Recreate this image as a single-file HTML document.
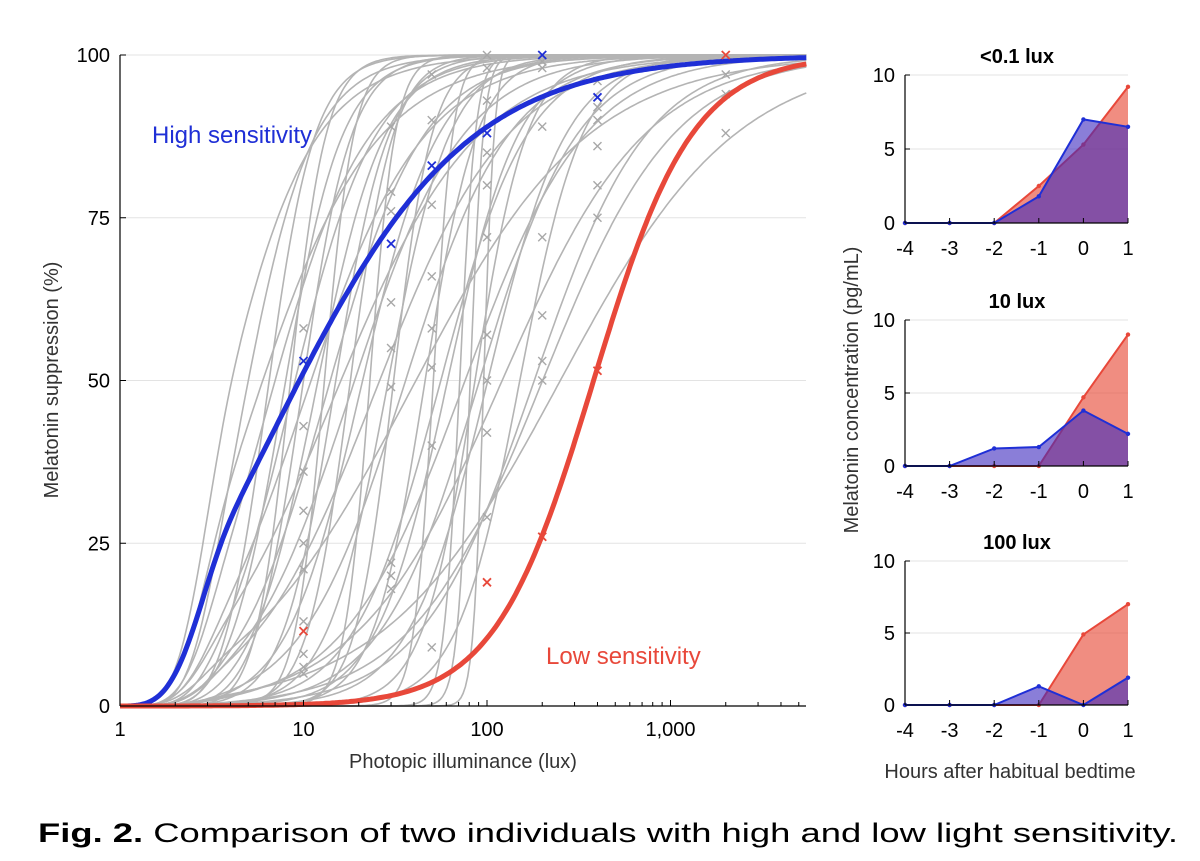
<!DOCTYPE html>
<html><head><meta charset="utf-8"><style>
body{margin:0;background:#fff;width:1200px;height:856px;overflow:hidden;font-family:"Liberation Sans",sans-serif}
svg text{font-family:"Liberation Sans",sans-serif}
</style></head><body>
<svg id="s" width="1200" height="856"></svg>
<script>
// ---- main chart data ----
const grayEc50 = [3,4,5,5.5,6,7,7.5,8,9,10,11,12,13,14,15,17,18,20,22,25,28,30,35,40,45,50,55,60,70,75,80,85,90,95,100,120,150,180,200,250];
const grayN    = [1.5,2,1.2,3,1.5,2.5,4,1.8,3,1.3,2.2,5,1.6,2.8,1.1,3.5,1.4,2,6,1.2,2.5,4,1.5,0.9,3,8,1.8,2.2,10,1.3,12,3,1.6,15,2,1.1,2.5,1.4,1.2,0.9];
const markLux = [10,10,10,10,10,10,10,10,10,10,30,30,30,30,30,30,30,30,30,50,50,50,50,50,50,50,50,100,100,100,100,100,100,100,100,100,100,200,200,200,200,200,200,200,400,400,400,400,400,400,2000,2000,2000];
const markVal = [58,43,36,30,25,21,13,8,6,5,89,79,76,62,55,49,22,20,18,97,90,77,66,58,52,40,9,100,98,93,85,80,72,57,50,42,29,99,89,72,60,53,50,98,96,92,86,80,75,90,94,88,97];
const blueLux=[10,30,50,100,200,400], blueVal=[53,71,83,88,100,93.5];
const redLux=[10,100,200,400,2000], redVal=[11.5,19,26,51.5,100];
const yTicks=[0,25,50,75,100], xTicks=[1,10,100,1000], xTickLabels=["1","10","100","1,000"];
// ---- small panels ----
const hours=[-4,-3,-2,-1,0,1];
const p1Red=[0,0,0,2.5,5.3,9.2], p1Blue=[0,0,0,1.8,7,6.5];
const p2Red=[0,0,0,0,4.7,9], p2Blue=[0,0,1.2,1.3,3.8,2.2];
const p3Red=[0,0,0,0,4.9,7], p3Blue=[0,0,0,1.3,0,1.9];
const panelTitles=["<0.1 lux","10 lux","100 lux"];

const NS="http://www.w3.org/2000/svg", S=document.getElementById('s');
function mk(tag,at,parent){const e=document.createElementNS(NS,tag);for(const k in at)e.setAttribute(k,at[k]);(parent||S).appendChild(e);return e;}
const X=v=>120+Math.log10(v)*183.5, Y=v=>706-v*6.51;
const hill=(x,ec,n)=>x<=1?0:(100/(1+Math.pow(ec/(x-1),n)))*(1-Math.exp(-Math.pow((x-1)/1.5,2)));
function curvePath(ec,n){let d="";for(let i=0;i<=300;i++){const lx=i/300*3.74;const x=Math.pow(10,lx);d+=(i?"L":"M")+X(x).toFixed(1)+","+Y(hill(x,ec,n)).toFixed(1);}return d;}

yTicks.forEach(t=>{if(t>0){const g=mk('line',{x1:120,x2:806,y1:Y(t),y2:Y(t),stroke:'#e3e3e3','stroke-width':1});}});
grayEc50.forEach((ec,i)=>{const p=mk('path',{d:curvePath(ec,grayN[i]),fill:'none',stroke:'#b4b4b4','stroke-width':1.6});

});
function xm(x,y,c,w){const g=mk('g',{stroke:c,'stroke-width':w});mk('line',{x1:x-4,y1:y-4,x2:x+4,y2:y+4},g);mk('line',{x1:x-4,y1:y+4,x2:x+4,y2:y-4},g);}
markLux.forEach((l,i)=>{if(markVal[i]!==undefined)xm(X(l),Y(markVal[i]),'#a8a8a8',1.4);});
const bp=mk('path',{d:curvePath(8.5,0.85),fill:'none',stroke:'#1f2fd6','stroke-width':5});

const rp=mk('path',{d:curvePath(380,1.6),fill:'none',stroke:'#e8483a','stroke-width':5});

blueLux.forEach((l,i)=>xm(X(l),Y(blueVal[i]),'#1f2fd6',1.8));
redLux.forEach((l,i)=>xm(X(l),Y(redVal[i]),'#e8483a',1.8));
mk('line',{x1:120,x2:120,y1:55,y2:706,stroke:'#000','stroke-width':1.2});
mk('line',{x1:120,x2:806,y1:706,y2:706,stroke:'#000','stroke-width':1.2});
yTicks.forEach(t=>{mk('line',{x1:120,x2:126,y1:Y(t),y2:Y(t),stroke:'#000'});const tx=mk('text',{x:110,y:Y(t)+7,'text-anchor':'end','font-size':20});tx.textContent=t;});
xTicks.forEach((t,i)=>{mk('line',{x1:X(t),x2:X(t),y1:706,y2:700,stroke:'#000'});const tx=mk('text',{x:X(t),y:736,'text-anchor':'middle','font-size':20});tx.textContent=xTickLabels[i];});
for(let d=0;d<4;d++)for(let k=2;k<10;k++){const v=k*Math.pow(10,d);if(v<5500)mk('line',{x1:X(v),x2:X(v),y1:706,y2:702,stroke:'#000'});}
let t=mk('text',{x:463,y:768,'text-anchor':'middle','font-size':20,fill:'#333'});t.textContent="Photopic illuminance (lux)";
t=mk('text',{x:58,y:380,'text-anchor':'middle','font-size':20,fill:'#333',transform:'rotate(-90 58 380)'});t.textContent="Melatonin suppression (%)";
t=mk('text',{x:152,y:143,'font-size':24,fill:'#1f2fd6'});t.textContent="High sensitivity";
t=mk('text',{x:546,y:664,'font-size':24,fill:'#e8483a'});t.textContent="Low sensitivity";

const panels=[[p1Red,p1Blue,75,223],[p2Red,p2Blue,320,466],[p3Red,p3Blue,561,705]];
const HX=h=>905+(h+4)*44.6;
panels.forEach((p,pi)=>{
 const [rd,bl,top,bot]=p; const PY=v=>bot-v*(bot-top)/10;
 [5,10].forEach(v=>mk('line',{x1:905,x2:1128,y1:PY(v),y2:PY(v),stroke:'#e3e3e3'}));
 function area(vals,fill,stroke,name){
  let d="M"+HX(hours[0])+","+PY(0);hours.forEach((h,i)=>d+="L"+HX(h)+","+PY(vals[i]));d+="L"+HX(hours[5])+","+PY(0)+"Z";
  const a=mk('path',{d,fill,stroke:'none'});
  let l="";hours.forEach((h,i)=>l+=(i?"L":"M")+HX(h)+","+PY(vals[i]));
  const ln=mk('path',{d:l,fill:'none',stroke,'stroke-width':2});
  hours.forEach((h,i)=>{const c=mk('circle',{cx:HX(h),cy:PY(vals[i]),r:2.2,fill:stroke});});
 }
 area(rd,'rgba(232,80,62,0.65)','#e8483a','low-sensitivity');
 area(bl,'rgba(60,40,190,0.6)','#1f2fd6','high-sensitivity');
 mk('line',{x1:905,x2:905,y1:top,y2:bot,stroke:'#000','stroke-width':1.2});
 mk('line',{x1:905,x2:1128,y1:bot,y2:bot,stroke:'#000','stroke-width':1.2});
 [0,5,10].forEach(v=>{mk('line',{x1:905,x2:910,y1:PY(v),y2:PY(v),stroke:'#000'});const tx=mk('text',{x:895,y:PY(v)+7,'text-anchor':'end','font-size':20});tx.textContent=v;});
 hours.forEach(h=>{mk('line',{x1:HX(h),x2:HX(h),y1:bot,y2:bot-5,stroke:'#000'});const tx=mk('text',{x:HX(h),y:bot+32,'text-anchor':'middle','font-size':20});tx.textContent=h;});
 const tt=mk('text',{x:1017,y:top-12,'text-anchor':'middle','font-size':20,'font-weight':'bold'});tt.textContent=panelTitles[pi];
});
t=mk('text',{x:858,y:390,'text-anchor':'middle','font-size':20,fill:'#333',transform:'rotate(-90 858 390)'});t.textContent="Melatonin concentration (pg/mL)";
t=mk('text',{x:1010,y:778,'text-anchor':'middle','font-size':20,fill:'#333'});t.textContent="Hours after habitual bedtime";
t=mk('text',{x:38,y:842,'font-size':27,textLength:1140,lengthAdjust:'spacingAndGlyphs'});t.innerHTML='<tspan font-weight="bold">Fig. 2.</tspan>  Comparison of two individuals with high and low light sensitivity.';
</script>
</body></html>
